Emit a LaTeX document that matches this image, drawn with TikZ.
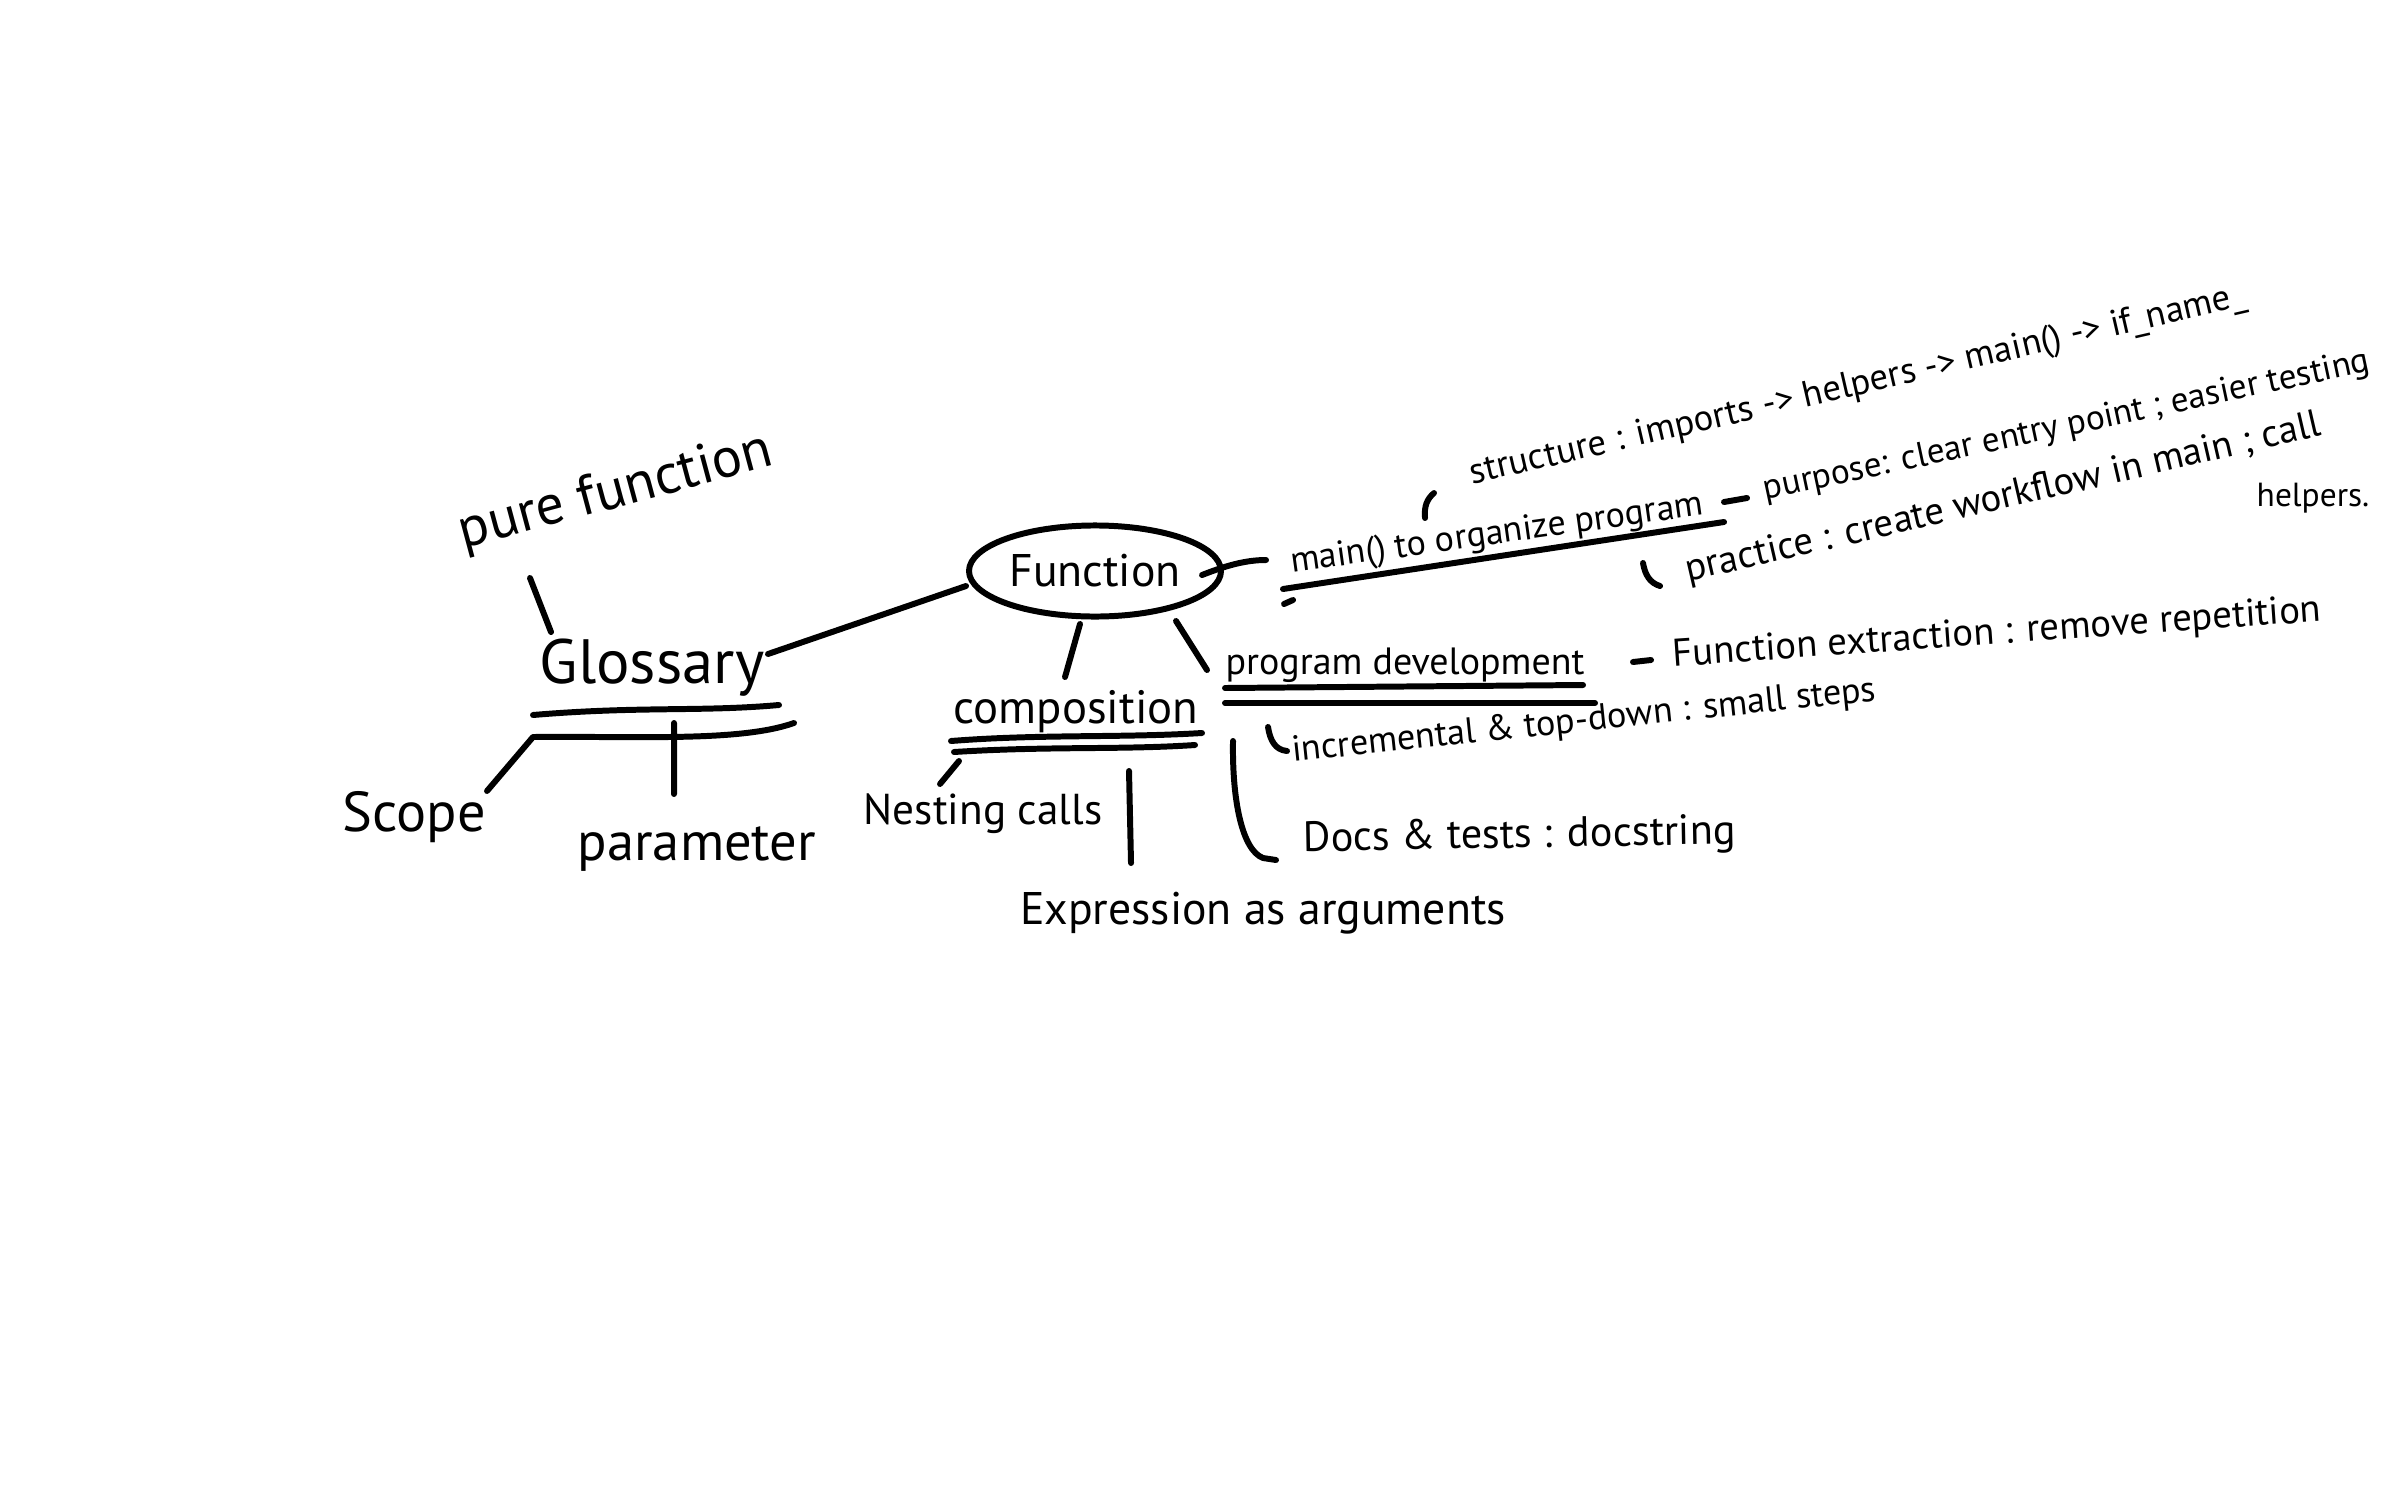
\documentclass[tikz,border=0pt]{standalone}
\usepackage{fontspec}
\setmainfont{PT Sans}
\usetikzlibrary{shapes.geometric}
\tikzset{
    pen/.style={line width=1.7pt,line cap=round,line join=round},
    word/.style={inner sep=1pt,font=\fontsize{#1}{#1}\selectfont},
}
\begin{document}
\begin{tikzpicture}[x=0.01cm,y=-0.01cm]
    \fill[white] (0,0) rectangle (2386,1491);
    \useasboundingbox (0,0) rectangle (2386,1491);
    \begin{scope}
        \node[word=16,rotate=15] (pure) at (616,493) {pure function};
        \node[word=17.8] (glos) at (652,668) {Glossary};
        \node[word=16] (scope) at (414,817) {Scope};
        \node[word=15.5] (param) at (697,849) {parameter};
        \coordinate (pureEnd) at (530,578);
        \coordinate (glosTop) at (551,632);
        \coordinate (glosLeft) at (533,737);
        \coordinate (scopeEnd) at (487,791);
        \coordinate (glosMid) at (674,723);
        \coordinate (paramEnd) at (674,794);
        \coordinate (glosRight) at (768,654);
        \draw[pen]
        (pureEnd) -- (glosTop)
        (533,715) .. controls (640,706) and (700,712) .. (779,705)
        (glosLeft) .. controls (640,736) and (740,742) .. (794,723)
        (glosLeft) -- (scopeEnd)
        (glosMid) -- (paramEnd)
        ;
    \end{scope}

    \begin{scope}
        \node[draw,ellipse,pen,word=13,minimum width=2.13cm,minimum height=0.91cm] (func) at (1095,571) {Function};
        \node[word=13.3] (comp) at (1076,712) {composition};
        \node[word=12.3] (nest) at (983,814) {Nesting calls};
        \node[word=13] (expr) at (1263,913) {Expression as arguments};
        \coordinate (funcLeft) at (966,586);
        \coordinate (funcLow) at (1080,624);
        \coordinate (compTop) at (1065,677);
        \coordinate (funcLowR) at (1176,621);
        \coordinate (devTop) at (1207,670);
        \coordinate (compLeft) at (959,761);
        \coordinate (nestEnd) at (940,784);
        \coordinate (compMid) at (1129,771);
        \coordinate (exprEnd) at (1131,863);
        \draw[pen]
        (glosRight) -- (funcLeft)
        (funcLow) -- (compTop)
        (funcLowR) -- (devTop)
        (951,741) .. controls (1040,734) and (1120,738) .. (1202,733)
        (954,752) .. controls (1050,746) and (1120,750) .. (1195,745)
        (compLeft) -- (nestEnd)
        (compMid) -- (exprEnd)
        ;
    \end{scope}

    \begin{scope}
        \node[word=10.2,rotate=8] (main) at (1497,535) {main() to organize program};
        \node[word=10.4,rotate=13] (struct) at (1858,386) {structure : imports -> helpers -> main() -> if\_name\_};
        \node[word=10,rotate=12,anchor=west] (purp) at (1760,492) {purpose: clear entry point ; easier testing};
        \node[word=11,rotate=13,anchor=west] (prac) at (1682,573) {practice : create workflow in main ; call};
        \node[word=9.5] (help) at (2313,498) {helpers.};
        \coordinate (funcRight) at (1202,575);
        \coordinate (mainLeft) at (1266,560);
        \coordinate (mainRight) at (1724,502);
        \coordinate (purpLeft) at (1747,498);
        \draw[pen]
        (funcRight) .. controls (1225,566) and (1245,560) .. (mainLeft)
        (1283,589) -- (1724,522)
        (1284,604) -- (1293,600)
        (mainRight) -- (purpLeft)
        (1425,518) .. controls (1424,506) and (1427,499) .. (1434,493)
        (1643,563) .. controls (1645,575) and (1650,583) .. (1660,586)
        ;
    \end{scope}

    \begin{scope}
        \node[word=10.8] (dev) at (1405,665) {program development};
        \node[word=11,rotate=4,anchor=west] (extr) at (1669,657) {Function extraction : remove repetition};
        \node[word=10.3,rotate=6,anchor=west] (incr) at (1288,753) {incremental \& top-down : small steps};
        \node[word=12,rotate=1,anchor=west] (docs) at (1299,841) {Docs \& tests : docstring};
        \coordinate (devRight) at (1633,662);
        \coordinate (extrLeft) at (1651,660);
        \draw[pen]
        (1225,688) -- (1583,685)
        (1225,703) -- (1595,703)
        (devRight) -- (extrLeft)
        (1268,727) .. controls (1270,740) and (1275,750) .. (1287,751)
        (1233,741) .. controls (1232,800) and (1242,850) .. (1263,858) -- (1276,860)
        ;
    \end{scope}
\end{tikzpicture}
\end{document}
